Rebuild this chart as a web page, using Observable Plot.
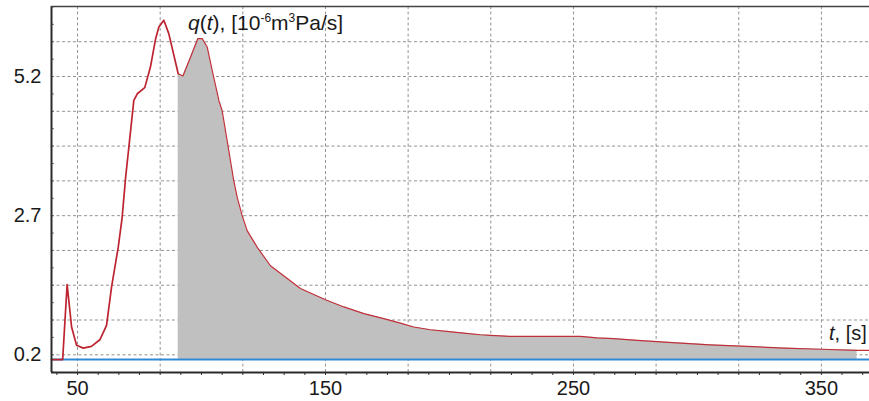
<!DOCTYPE html>
<html>
<head>
<meta charset="utf-8">
<script src="https://cdn.jsdelivr.net/npm/d3@7"></script>
<script src="https://cdn.jsdelivr.net/npm/@observablehq/plot@0.6"></script>
<style>
  html, body { margin: 0; padding: 0; background: #fff; }
  #chart svg { display: block; }
</style>
</head>
<body>
<div id="chart"></div>
<script>
// Flow rate q(t) over time t, in 10^-6 m^3 Pa/s
const time = [39.5, 44.0, 45.8, 46.9, 47.6, 49.6, 52.3, 55.6, 59.0, 61.7, 63.7, 66.4, 68.0, 69.4, 70.7,
  72.7, 74.1, 77.1, 79.4, 81.5, 82.8, 84.8, 86.8, 90.6, 92.5, 95.6, 98.5, 100.3, 102.3, 104.3,
  107.0, 108.3, 111.0, 113.0, 114.4, 116.4, 118.4, 122.5, 127.8, 134.6, 139.9, 150.0, 157.4, 165.5,
  173.5, 180.2, 185.6, 192.3, 199.0, 205.7, 212.5, 216.5, 224.6, 252.8, 259.5, 266.3, 275.7, 290.0,
  305.0, 320.0, 335.0, 350.0, 364.4, 370.0];
const flow = [0.115, 0.115, 1.46, 1.0, 0.70, 0.37, 0.32, 0.35, 0.47, 0.73, 1.41, 2.13, 2.67, 3.39, 3.93,
  4.77, 4.89, 5.00, 5.37, 5.88, 6.09, 6.21, 5.97, 5.25, 5.21, 5.55, 5.88, 5.88, 5.73, 5.31,
  4.77, 4.59, 3.87, 3.33, 3.03, 2.70, 2.43, 2.13, 1.80, 1.57, 1.39, 1.19, 1.06, 0.94,
  0.85, 0.77, 0.70, 0.65, 0.62, 0.59, 0.56, 0.55, 0.53, 0.53, 0.505, 0.49, 0.46, 0.42,
  0.38, 0.35, 0.32, 0.30, 0.28, 0.28];

// Reference level and the integrated interval
const baseline = 0.115;
const areaStart = 90.6;
const areaEnd = 364.4;

// Axis labels
const xTicks = [50, 150, 250, 350];
const yTicks = [0.2, 2.7, 5.2];

const xDomain = [39.5, 369.4];
const yDomain = [-0.118, 6.458];

const data = time.map((t, i) => ({t, q: flow[i]}));
const shaded = data.filter(d => d.t >= areaStart && d.t <= areaEnd);
const rising = data.filter(d => d.t <= areaStart);
const falling = data.filter(d => d.t >= areaStart);

// Grid: three divisions between labelled x ticks, four between labelled y ticks
const xStep = (xTicks[1] - xTicks[0]) / 3;
const yStep = (yTicks[1] - yTicks[0]) / 4;
const xGrid = d3.range(0, 10).map(i => xTicks[0] + i * xStep).filter(v => v <= xDomain[1]);
const yGrid = d3.range(0, 10).map(i => yTicks[0] + i * yStep).filter(v => v < yDomain[1] - 0.01);
const xMinor = d3.range(-2, 40).map(i => xTicks[0] + i * xStep / 4).filter(v => v > xDomain[0] && v <= xDomain[1]);
const yMinor = d3.range(-1, 25).map(i => yTicks[0] + i * yStep / 2).filter(v => v > yDomain[0] && v < yDomain[1]);

const gridStyle = {stroke: "#939393", strokeOpacity: 1, strokeWidth: 1, strokeDasharray: "3,2.5"};

const chart = Plot.plot({
  width: 869,
  height: 401,
  marginLeft: 51,
  marginRight: 0,
  marginTop: 6,
  marginBottom: 29,
  x: {domain: xDomain},
  y: {domain: yDomain},
  style: {
    fontFamily: "'Liberation Sans', Arial, sans-serif",
    fontSize: "20px",
    color: "#1a1a1a",
    background: "#ffffff"
  },
  marks: [
    Plot.gridX(xGrid, gridStyle),
    Plot.gridY(yGrid, gridStyle),
    Plot.areaY(shaded, {x: "t", y1: baseline, y2: "q", fill: "#c0c0c0", curve: "linear"}),
    Plot.ruleY([baseline], {stroke: "#2e8ad8", strokeWidth: 2}),
    Plot.lineY(rising, {x: "t", y: "q", stroke: "#bd2430", strokeWidth: 1.7}),
    Plot.lineY(falling, {x: "t", y: "q", stroke: "#c0303a", strokeWidth: 1.2}),
    // minor ticks
    Plot.axisX(xMinor, {tickSize: 3, text: null, stroke: "#333", label: null}),
    Plot.axisY(yMinor, {tickSize: 3, dx: 3, text: null, stroke: "#777", label: null}),
    // labelled ticks
    Plot.axisX(xTicks, {tickSize: 0, tickPadding: 8, tickFormat: d => String(d), label: null, fill: "#1a1a1a"}),
    Plot.axisY(yTicks, {tickSize: 0, tickPadding: 10, tickFormat: d3.format(".1f"), label: null, fill: "#1a1a1a"}),
    // frame
    Plot.ruleX([xDomain[0]], {stroke: "#2b2b2b", strokeWidth: 2}),
    Plot.ruleY([yDomain[0]], {stroke: "#2b2b2b", strokeWidth: 2}),
    Plot.ruleY([yDomain[1]], {stroke: "#444", strokeWidth: 1.5})
  ]
});

// Axis titles with italic variables and superscript exponents
const svg = d3.select(chart);
const fam = "'Liberation Sans', Arial, sans-serif";
const title = svg.append("text")
  .attr("x", 188).attr("y", 30).attr("text-anchor", "start")
  .attr("font-family", fam).attr("font-size", 21).attr("fill", "#1a1a1a");
title.append("tspan").attr("font-style", "italic").text("q");
title.append("tspan").text("(");
title.append("tspan").attr("font-style", "italic").text("t");
title.append("tspan").text("), [10");
title.append("tspan").attr("font-size", 12).attr("dy", -8).text("-6");
title.append("tspan").attr("dy", 8).text("m");
title.append("tspan").attr("font-size", 12).attr("dy", -8).text("3");
title.append("tspan").attr("dy", 8).text("Pa/s]");

const xlab = svg.append("text")
  .attr("x", 829).attr("y", 340).attr("text-anchor", "start")
  .attr("font-family", fam).attr("font-size", 20).attr("fill", "#1a1a1a");
xlab.append("tspan").attr("font-style", "italic").text("t");
xlab.append("tspan").text(", [s]");

document.getElementById("chart").appendChild(chart);
</script>
</body>
</html>
